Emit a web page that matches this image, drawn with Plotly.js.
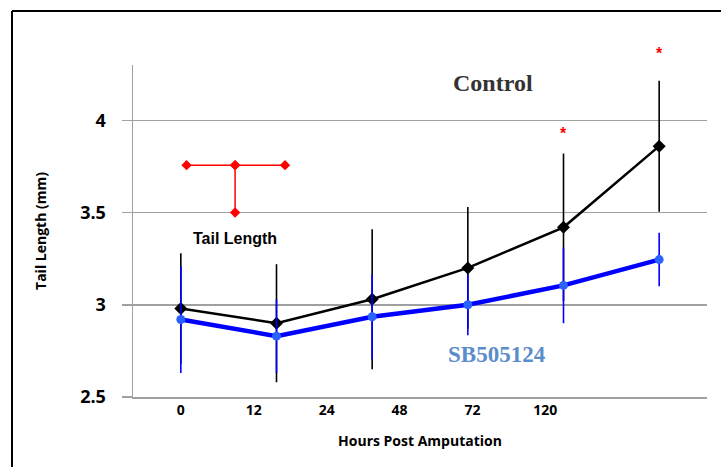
<!DOCTYPE html>
<html>
<head>
<meta charset="utf-8">
<script src="https://cdn.plot.ly/plotly-3.0.1.min.js"></script>
<style>html,body{margin:0;padding:0;background:#fff;}#chart{width:721px;height:467px;}</style>
</head>
<body>
<div id="chart"></div>
<script>
// ---- data ----
const hours = ["0", "12", "24", "48", "72", "120"];
const controlMean = [2.98, 2.90, 3.03, 3.20, 3.42, 3.86];
const controlSD   = [0.30, 0.32, 0.38, 0.33, 0.40, 0.355];
const sbMean      = [2.92, 2.83, 2.935, 3.00, 3.105, 3.245];
const sbSD        = [0.29, 0.20, 0.23, 0.165, 0.205, 0.145];
const sigIndex    = [4, 5];          // points marked with *
const sigY        = [3.95, 4.38];
// T-shaped tail-length glyph (in plot units)
const glyphX = [0.06, 0.567, 1.089, null, 0.567, 0.567];
const glyphY = [3.757, 3.757, 3.757, null, 3.757, 3.50];

const yRange = [2.5, 4.3];
const idx = controlMean.map((_, i) => i);
const labelStep = 0.762;

const traces = [
  {
    x: idx, y: controlMean, type: 'scatter', mode: 'lines+markers', name: 'Control',
    line: {color: '#000000', width: 2.5},
    marker: {symbol: 'diamond', size: 10, color: '#000000'},
    error_y: {type: 'data', array: controlSD, visible: true, color: '#000000', thickness: 1.6, width: 0},
    showlegend: false
  },
  {
    x: idx, y: sbMean, type: 'scatter', mode: 'lines+markers', name: 'SB505124',
    line: {color: '#0000ff', width: 4.5},
    marker: {symbol: 'circle', size: 9, color: '#2a62ff'},
    error_y: {type: 'data', array: sbSD, visible: true, color: '#0000ff', thickness: 1.6, width: 0},
    showlegend: false
  },
  {
    x: glyphX, y: glyphY, type: 'scatter', mode: 'lines+markers',
    line: {color: '#ff0000', width: 1.5},
    marker: {symbol: 'diamond', size: 8, color: '#ff0000'},
    connectgaps: false, showlegend: false, hoverinfo: 'skip'
  }
];

const annotations = [
  {x: 0.567, y: 3.36, xref: 'x', yref: 'y', text: '<b>Tail Length</b>', showarrow: false,
   font: {family: 'Liberation Sans, Arial, sans-serif', size: 16, color: '#000'}},
  {x: 3.267, y: 4.2, xref: 'x', yref: 'y', text: '<b>Control</b>', showarrow: false,
   font: {family: 'Liberation Serif, Times New Roman, serif', size: 24, color: '#333333'}},
  {x: 3.3, y: 2.73, xref: 'x', yref: 'y', text: '<b>SB505124</b>', showarrow: false,
   font: {family: 'Liberation Serif, Times New Roman, serif', size: 23, color: '#5b8ccb'}}
];
sigIndex.forEach((k, j) => {
  annotations.push({x: k, y: (sigY[j] - yRange[0]) / (yRange[1] - yRange[0]), xref: 'x', yref: 'paper',
    text: '<b>*</b>', showarrow: false,
    font: {family: 'Liberation Sans, Arial, sans-serif', size: 16, color: '#ff0000'}, yshift: 7});
});

const layout = {
  width: 721, height: 467,
  margin: {l: 133, r: 14, t: 65, b: 70},
  paper_bgcolor: '#ffffff', plot_bgcolor: '#ffffff',
  font: {family: 'Open Sans, sans-serif', color: '#000'},
  xaxis: {
    range: [-0.5, 5.5], showgrid: false, zeroline: false,
    showline: true, linecolor: '#a0a0a0', linewidth: 1.5,
    tickmode: 'array', tickvals: hours.map((h, i) => i * labelStep), ticktext: hours,
    ticks: '', ticklabelstandoff: 0,
    tickfont: {family: 'Open Sans, sans-serif', size: 14, weight: 'bold', color: '#000'},
    title: {text: 'Hours Post Amputation', standoff: 18,
            font: {family: 'Open Sans, sans-serif', size: 14, weight: 'bold', color: '#000'}},
    automargin: false, fixedrange: true
  },
  yaxis: {
    range: yRange, tickvals: [2.5, 3, 3.5, 4], ticktext: ['2.5', '3', '3.5', '4'],
    showgrid: true, gridcolor: '#a0a0a0', gridwidth: 1.5, zeroline: false,
    showline: true, linecolor: '#a0a0a0', linewidth: 1.5,
    ticks: 'outside', ticklen: 10, tickcolor: '#a0a0a0', tickwidth: 1.5,
    ticklabelstandoff: 12,
    tickfont: {family: 'Open Sans, sans-serif', size: 18, weight: 'bold', color: '#000'},
    title: {text: 'Tail Length (mm)', standoff: 30,
            font: {family: 'Open Sans, sans-serif', size: 14, weight: 'bold', color: '#000'}},
    automargin: false, fixedrange: true
  },
  annotations: annotations,
  shapes: [
    {type: 'line', xref: 'paper', yref: 'paper', x0: -0.2108, x1: 1.1, y0: 1.1627, y1: 1.1627,
     line: {color: '#000', width: 2}},
    {type: 'line', xref: 'paper', yref: 'paper', x0: -0.2108, x1: -0.2108, y0: 1.1627, y1: -0.3,
     line: {color: '#000', width: 2}}
  ],
  showlegend: false
};

Plotly.newPlot('chart', traces, layout, {displayModeBar: false, staticPlot: true});
</script>
</body>
</html>
